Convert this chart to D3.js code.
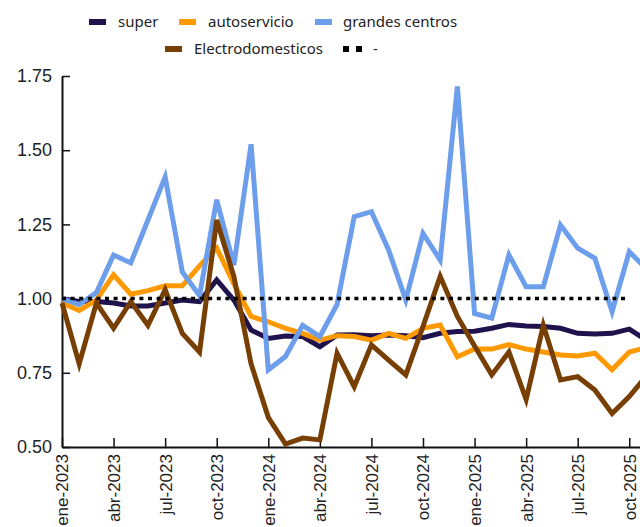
<!DOCTYPE html>
<html>
<head>
<meta charset="utf-8">
<script src="https://cdn.jsdelivr.net/npm/d3@7"></script>
<style>
  body { margin: 0; background: #fff; }
  .axis text { font-family: "Liberation Sans", Arial, sans-serif; font-size: 17px; fill: #222; }
  .yaxis text { font-size: 18px; }
  .axis path, .axis line { stroke: #111; }
  .legendText { font-family: "Noto Sans", sans-serif; font-size: 15px; fill: #222; }
</style>
</head>
<body>
<div id="chart"></div>
<script>
var months = ["ene-2023","feb-2023","mar-2023","abr-2023","may-2023","jun-2023","jul-2023","ago-2023","sep-2023","oct-2023","nov-2023","dic-2023",
  "ene-2024","feb-2024","mar-2024","abr-2024","may-2024","jun-2024","jul-2024","ago-2024","sep-2024","oct-2024","nov-2024","dic-2024",
  "ene-2025","feb-2025","mar-2025","abr-2025","may-2025","jun-2025","jul-2025","ago-2025","sep-2025","oct-2025","nov-2025"]

var superVals = [1.00, 0.99, 0.99, 0.985, 0.975, 0.975, 0.985, 0.995, 0.99, 1.063, 0.995, 0.894,
  0.866, 0.874, 0.872, 0.838, 0.877, 0.878, 0.875, 0.877, 0.875, 0.868, 0.883, 0.889,
  0.89, 0.90, 0.913, 0.908, 0.906, 0.90, 0.883, 0.881, 0.883, 0.897, 0.86]

var autoVals = [0.985, 0.96, 0.995, 1.08, 1.015, 1.027, 1.043, 1.043, 1.11, 1.17, 1.05, 0.94,
  0.922, 0.90, 0.883, 0.86, 0.875, 0.872, 0.86, 0.883, 0.866, 0.90, 0.911, 0.804,
  0.83, 0.83, 0.845, 0.83, 0.82, 0.81, 0.807, 0.816, 0.76, 0.82, 0.835]

var grandesVals = [1.00, 0.98, 1.02, 1.147, 1.12, 1.265, 1.41, 1.09, 1.01, 1.333, 1.113, 1.52,
  0.76, 0.805, 0.91, 0.872, 0.98, 1.276, 1.293, 1.164, 0.995, 1.22, 1.13, 1.715,
  0.95, 0.934, 1.147, 1.04, 1.04, 1.248, 1.17, 1.136, 0.956, 1.158, 1.10]

var electroVals = [0.985, 0.78, 0.985, 0.90, 0.99, 0.91, 1.03, 0.883, 0.82, 1.265, 1.074, 0.78,
  0.60, 0.51, 0.53, 0.524, 0.816, 0.703, 0.844, 0.793, 0.743, 0.906, 1.075, 0.94,
  0.84, 0.743, 0.82, 0.66, 0.91, 0.726, 0.737, 0.692, 0.613, 0.67, 0.74]

// reference line, stops at oct-2025
var refVals = [1,1,1,1,1,1,1,1,1,1,1,1, 1,1,1,1,1,1,1,1,1,1,1,1, 1,1,1,1,1,1,1,1,1,1]

var yTicks = [0.50, 0.75, 1.00, 1.25, 1.50, 1.75]

var series = [
  {name: "super", values: superVals, color: "#20124d"},
  {name: "autoservicio", values: autoVals, color: "#ff9900"},
  {name: "grandes centros", values: grandesVals, color: "#6d9eeb"},
  {name: "Electrodomesticos", values: electroVals, color: "#783f04"}
]

var chart_width = 640, chart_height = 527
var plot_left = 62, plot_top = 76, plot_bottom = 447
var step = 17.19

var svg = d3.select("#chart").append("svg")
  .attr("width", chart_width)
  .attr("height", chart_height)

var x = d3.scalePoint()
  .domain(months)
  .range([plot_left, plot_left + step * (months.length - 1)])

var y = d3.scaleLinear()
  .domain([0.5, 1.75])
  .range([plot_bottom, plot_top])

var line = d3.line()
  .defined(function(d){ return d != null })
  .x(function(d, i){ return x(months[i]) })
  .y(function(d){ return y(d) })

// axes
var yAxis = d3.axisLeft(y)
  .tickValues(yTicks)
  .tickFormat(d3.format(".2f"))
  .tickSizeInner(-8)
  .tickSizeOuter(0)
  .tickPadding(10)

svg.append("g")
  .attr("class", "axis yaxis")
  .attr("transform", "translate(" + plot_left + ",0)")
  .call(yAxis)

var xAxis = d3.axisBottom(x)
  .tickValues(months.filter(function(d, i){ return i % 3 == 0 }))
  .tickSizeInner(-9)
  .tickSizeOuter(0)

var xg = svg.append("g")
  .attr("class", "axis")
  .attr("transform", "translate(0," + plot_bottom + ")")
  .call(xAxis)

xg.selectAll("text")
  .attr("transform", "rotate(-90)")
  .attr("text-anchor", "end")
  .attr("x", -7)
  .attr("y", 0)
  .attr("dy", "0.35em")

svg.selectAll(".axis path").attr("stroke-width", 2)
svg.selectAll(".axis line").attr("stroke-width", 1.5)

// lines
svg.selectAll(".series")
  .data(series)
  .enter().append("path")
    .attr("class", "series")
    .attr("fill", "none")
    .attr("stroke", function(d){ return d.color })
    .attr("stroke-width", 5)
    .attr("d", function(d){ return line(d.values) })

svg.append("path")
  .attr("fill", "none")
  .attr("stroke", "#000")
  .attr("stroke-width", 3.5)
  .attr("stroke-dasharray", "4,4.6")
  .attr("d", line(refVals))

// legend
var legendItems = [
  {name: "super", color: "#20124d", sx: 89, tx: 118, row: 0},
  {name: "autoservicio", color: "#ff9900", sx: 179, tx: 208, row: 0},
  {name: "grandes centros", color: "#6d9eeb", sx: 315, tx: 343, row: 0},
  {name: "Electrodomesticos", color: "#783f04", sx: 165, tx: 194, row: 1}
]
var rowY = [22, 49]

var legend = svg.append("g")
legendItems.forEach(function(d){
  legend.append("rect")
    .attr("x", d.sx)
    .attr("y", rowY[d.row] - 3)
    .attr("width", 17)
    .attr("height", 6)
    .attr("fill", d.color)
  legend.append("text")
    .attr("class", "legendText")
    .attr("x", d.tx)
    .attr("y", rowY[d.row])
    .attr("dy", "0.35em")
    .text(d.name)
})

legend.append("line")
  .attr("x1", 343).attr("x2", 362)
  .attr("y1", rowY[1]).attr("y2", rowY[1])
  .attr("stroke", "#000")
  .attr("stroke-width", 6)
  .attr("stroke-dasharray", "6,7")

legend.append("text")
  .attr("class", "legendText")
  .attr("x", 373)
  .attr("y", rowY[1])
  .attr("dy", "0.35em")
  .text("-")
</script>
</body>
</html>
